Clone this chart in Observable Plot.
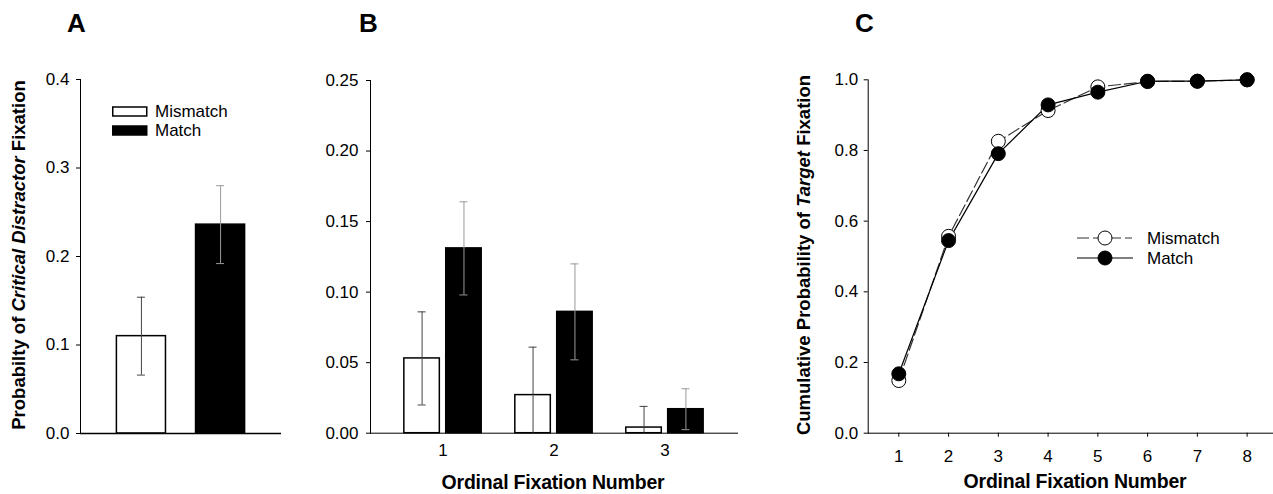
<!DOCTYPE html>
<html>
<head>
<meta charset="utf-8">
<script src="https://cdn.jsdelivr.net/npm/d3@7"></script>
<script src="https://cdn.jsdelivr.net/npm/@observablehq/plot@0.6"></script>
<style>
  html, body { margin: 0; padding: 0; background: #fff; }
  body { font-family: "Liberation Sans", Arial, Helvetica, sans-serif; color: #000; }
  #root { position: relative; width: 1273px; height: 494px; overflow: hidden; background: #fff; }
  .panel { position: absolute; top: 50px; }
  .tag { position: absolute; top: 10px; font-weight: bold; font-size: 26px; line-height: 26px; }
  .ylab { position: absolute; font-weight: bold; font-size: 18.5px; line-height: 19px; white-space: nowrap;
          transform: translate(-50%, -50%) rotate(-90deg); }
  .xlab { position: absolute; font-weight: bold; font-size: 19.5px; line-height: 20px; white-space: nowrap;
          transform: translate(-50%, -50%); letter-spacing: -0.2px; }
  .leg { position: absolute; font-size: 17px; line-height: 19px; }
  .leg .row { display: flex; align-items: center; height: 19px; }
  .leg svg { display: block; }
</style>
</head>
<body>
<div id="root">
  <div class="tag" style="left:67px">A</div>
  <div class="tag" style="left:359px">B</div>
  <div class="tag" style="left:855px">C</div>
  <div class="ylab" style="left:18px; top:255px">Probabilty of <i>Critical Distractor</i> Fixation</div>
  <div class="ylab" style="left:803px; top:255px">Cumulative Probability of <i>Target</i> Fixation</div>
  <div class="xlab" style="left:553px; top:482px">Ordinal Fixation Number</div>
  <div class="xlab" style="left:1075px; top:481px">Ordinal Fixation Number</div>
  <div id="pA" class="panel" style="left:0px"></div>
  <div id="pB" class="panel" style="left:285px"></div>
  <div id="pC" class="panel" style="left:750px"></div>
  <div id="legA" class="leg" style="left:112px; top:102px"></div>
  <div id="legC" class="leg" style="left:1076px; top:228px"></div>
</div>
<script>
// ---------------- data ----------------
const conditions = ["Mismatch", "Match"];

// Panel A: probability of critical distractor fixation
const aMean = [0.110, 0.236];
const aSE   = [0.044, 0.044];
const aTicks = [0, 0.1, 0.2, 0.3, 0.4];

// Panel B: by ordinal fixation number
const bFixations  = [1, 2, 3];
const bMismatch   = [0.053, 0.027, 0.004];
const bMismatchSE = [0.033, 0.034, 0.015];
const bMatch      = [0.131, 0.086, 0.017];
const bMatchSE    = [0.033, 0.034, 0.0145];
const bTicks = [0, 0.05, 0.10, 0.15, 0.20, 0.25];

// Panel C: cumulative probability of target fixation
const cFixations = [1, 2, 3, 4, 5, 6, 7, 8];
const cMismatch  = [0.149, 0.557, 0.826, 0.913, 0.980, 0.995, 0.996, 1.000];
const cMatch     = [0.168, 0.545, 0.791, 0.929, 0.965, 0.996, 0.996, 1.000];
const cTicks = [0, 0.2, 0.4, 0.6, 0.8, 1.0];

// ---------------- shared style ----------------
const style = {
  fontFamily: "'Liberation Sans', Arial, Helvetica, sans-serif",
  fontSize: "17px",
  color: "#000",
  background: "transparent",
  overflow: "visible"
};
const errDark = "#444";
const errLight = "#9a9a9a";

// ---------------- Panel A ----------------
const aRows = conditions.map((c, i) => ({cond: c, mean: aMean[i], se: aSE[i]}));
const aMis = aRows.filter(d => d.cond === "Mismatch");
const aMat = aRows.filter(d => d.cond === "Match");
const aWidth = 285, aML = 80, aMR = 4, aPI = 0.38, aPO = 0.46;
const aStep = (aWidth - aML - aMR) / (conditions.length - aPI + 2 * aPO);
const aBW = aStep * (1 - aPI);
const capW = 8;
const aCapInset = (aBW - capW) / 2;

const plotA = Plot.plot({
  width: aWidth, height: 444,
  marginTop: 29, marginBottom: 61, marginLeft: aML, marginRight: aMR,
  style,
  x: {domain: conditions, paddingInner: aPI, paddingOuter: aPO, round: false, axis: null},
  y: {domain: [0, 0.4], ticks: aTicks, tickFormat: d3.format(".1f"), tickSize: 4, tickPadding: 7, line: true, label: null},
  marks: [
    Plot.barY(aMis, {x: "cond", y: "mean", fill: "white", stroke: "black", strokeWidth: 1.5}),
    Plot.barY(aMat, {x: "cond", y: "mean", fill: "black", stroke: "black", strokeWidth: 1.5}),
    Plot.ruleX(aMis, {x: "cond", y1: d => d.mean - d.se, y2: d => d.mean + d.se, stroke: errDark}),
    Plot.ruleX(aMat, {x: "cond", y1: d => d.mean - d.se, y2: d => d.mean + d.se, stroke: errLight}),
    Plot.tickY(aMis, {x: "cond", y: d => d.mean + d.se, stroke: errDark, insetLeft: aCapInset, insetRight: aCapInset}),
    Plot.tickY(aMis, {x: "cond", y: d => d.mean - d.se, stroke: errDark, insetLeft: aCapInset, insetRight: aCapInset}),
    Plot.tickY(aMat, {x: "cond", y: d => d.mean + d.se, stroke: errLight, insetLeft: aCapInset, insetRight: aCapInset}),
    Plot.tickY(aMat, {x: "cond", y: d => d.mean - d.se, stroke: errLight, insetLeft: aCapInset, insetRight: aCapInset}),
    Plot.ruleY([0], {stroke: "black", strokeWidth: 1.5})
  ]
});
document.getElementById("pA").appendChild(plotA);

// ---------------- Panel B ----------------
const bRows = bFixations.map((f, i) => ({
  fix: f, mis: bMismatch[i], misSE: bMismatchSE[i], mat: bMatch[i], matSE: bMatchSE[i]
}));
const bWidth = 465, bML = 85, bMR = 13, bPI = 0.303, bPO = 0.305;
const bStep = (bWidth - bML - bMR) / (bFixations.length - bPI + 2 * bPO);
const bBW = bStep * (1 - bPI);
const barGap = 6.4;
const barW = (bBW - barGap) / 2;
const barInset = barW + barGap;
const errOff = (barW + barGap) / 2;
const misCapL = bBW / 2 - errOff - capW / 2, misCapR = bBW - (bBW / 2 - errOff + capW / 2);
const matCapL = bBW / 2 + errOff - capW / 2, matCapR = bBW - (bBW / 2 + errOff + capW / 2);
const bLoMis = bRows.filter(d => d.mis - d.misSE >= 0);
const bLoMat = bRows.filter(d => d.mat - d.matSE >= 0);

const plotB = Plot.plot({
  width: bWidth, height: 444,
  marginTop: 30, marginBottom: 61.3, marginLeft: bML, marginRight: bMR,
  style,
  x: {domain: bFixations, type: "band", paddingInner: bPI, paddingOuter: bPO, round: false,
      tickSize: 0, tickPadding: 11, line: true, label: null},
  y: {domain: [0, 0.25], ticks: bTicks, tickFormat: d3.format(".2f"), tickSize: 4, tickPadding: 8, line: true, label: null},
  marks: [
    Plot.barY(bRows, {x: "fix", y: "mis", fill: "white", stroke: "black", strokeWidth: 1.5, insetRight: barInset}),
    Plot.barY(bRows, {x: "fix", y: "mat", fill: "black", stroke: "black", strokeWidth: 1.5, insetLeft: barInset}),
    Plot.ruleX(bRows, {x: "fix", dx: -errOff, y1: d => Math.max(0, d.mis - d.misSE), y2: d => d.mis + d.misSE, stroke: errDark}),
    Plot.ruleX(bRows, {x: "fix", dx: errOff, y1: d => Math.max(0, d.mat - d.matSE), y2: d => d.mat + d.matSE, stroke: errLight}),
    Plot.tickY(bRows, {x: "fix", y: d => d.mis + d.misSE, stroke: errDark, insetLeft: misCapL, insetRight: misCapR}),
    Plot.tickY(bLoMis, {x: "fix", y: d => d.mis - d.misSE, stroke: errDark, insetLeft: misCapL, insetRight: misCapR}),
    Plot.tickY(bRows, {x: "fix", y: d => d.mat + d.matSE, stroke: errLight, insetLeft: matCapL, insetRight: matCapR}),
    Plot.tickY(bLoMat, {x: "fix", y: d => d.mat - d.matSE, stroke: errLight, insetLeft: matCapL, insetRight: matCapR})
  ]
});
document.getElementById("pB").appendChild(plotB);

// ---------------- Panel C ----------------
const cMis = cFixations.map((f, i) => ({fix: f, p: cMismatch[i]}));
const cMat = cFixations.map((f, i) => ({fix: f, p: cMatch[i]}));
const plotC = Plot.plot({
  width: 523, height: 444,
  marginTop: 29.3, marginBottom: 61.3, marginLeft: 117.7, marginRight: 0,
  style,
  x: {domain: [0.385, 8.53], ticks: cFixations, tickFormat: d => String(d), tickSize: 4, tickPadding: 13, line: true, label: null},
  y: {domain: [0, 1], ticks: cTicks, tickFormat: d3.format(".1f"), tickSize: 4, tickPadding: 6, line: true, label: null},
  marks: [
    Plot.line(cMis, {x: "fix", y: "p", stroke: "#333", strokeWidth: 1.2, strokeDasharray: "12,4"}),
    Plot.line(cMat, {x: "fix", y: "p", stroke: "black", strokeWidth: 1.2}),
    Plot.dot(cMis, {x: "fix", y: "p", r: 7, fill: "white", stroke: "black", strokeWidth: 1}),
    Plot.dot(cMat, {x: "fix", y: "p", r: 7, fill: "black", stroke: "black", strokeWidth: 1})
  ]
});
document.getElementById("pC").appendChild(plotC);

// ---------------- Legends ----------------
function legendA() {
  const host = d3.select("#legA");
  conditions.forEach(c => {
    const row = host.append("div").attr("class", "row");
    const s = row.append("svg").attr("width", 43).attr("height", 19);
    s.append("rect").attr("x", 0.75).attr("y", 5).attr("width", 34).attr("height", 9)
      .attr("fill", c === "Match" ? "black" : "white").attr("stroke", "black").attr("stroke-width", 1.5);
    row.append("span").text(c);
  });
}
function legendC() {
  const host = d3.select("#legC");
  conditions.forEach(c => {
    const row = host.append("div").attr("class", "row").style("height", "20px");
    const s = row.append("svg").attr("width", 71).attr("height", 20);
    if (c === "Mismatch") {
      s.append("line").attr("x1", 1).attr("x2", 56).attr("y1", 10).attr("y2", 10)
        .attr("stroke", "#333").attr("stroke-width", 1.2).attr("stroke-dasharray", "12,4");
      s.append("circle").attr("cx", 29).attr("cy", 10).attr("r", 7).attr("fill", "white").attr("stroke", "black");
    } else {
      s.append("line").attr("x1", 1).attr("x2", 57).attr("y1", 10).attr("y2", 10)
        .attr("stroke", "black").attr("stroke-width", 1.2);
      s.append("circle").attr("cx", 29).attr("cy", 10).attr("r", 7).attr("fill", "black").attr("stroke", "black");
    }
    row.append("span").text(c);
  });
}
legendA();
legendC();
</script>
</body>
</html>
